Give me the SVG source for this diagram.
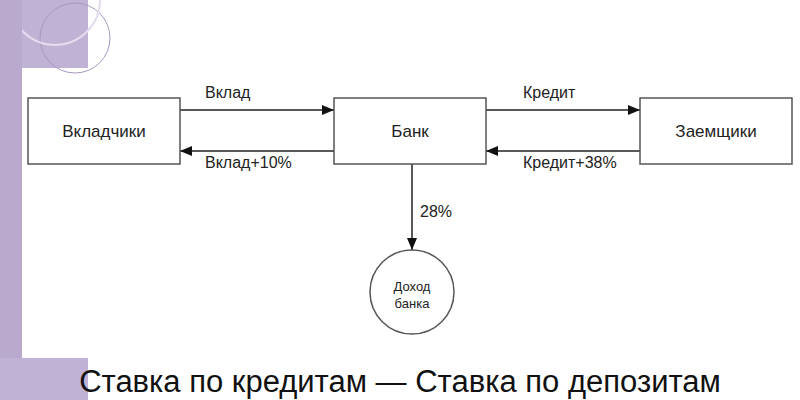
<svg xmlns="http://www.w3.org/2000/svg" width="800" height="400" viewBox="0 0 800 400">
<style>
.b{fill:#fff;stroke:#555;stroke-width:1.5}
.t{font-family:"Liberation Sans",Arial,sans-serif;fill:#222;font-size:17px}
.s{font-size:16px}
.c{font-size:13px}
.l{stroke:#222;stroke-width:1.5;fill:none;marker-end:url(#a)}
</style>
<defs><marker id="a" markerWidth="12" markerHeight="10" refX="12" refY="5" orient="auto" markerUnits="userSpaceOnUse"><path d="M0,0L12,5L0,10z" fill="#111"/></marker></defs>
<rect width="800" height="400" fill="#fff"/>
<rect x="0" y="0" width="88" height="68" fill="#c0b2d4"/>
<circle cx="75" cy="38" r="35" fill="none" stroke="#a898bf" stroke-width="1"/>
<circle cx="55" cy="0" r="45" fill="none" stroke="#e4dcee" stroke-width="2"/>
<rect x="0" y="0" width="22" height="400" fill="#b8a9cd"/>
<rect x="0" y="358" width="88" height="42" fill="#c0b2d4"/>
<g id="connectors">
<line class="l" x1="180" y1="110" x2="334" y2="110"/>
<line class="l" x1="334" y1="151" x2="180" y2="151"/>
<line class="l" x1="486" y1="110" x2="640" y2="110"/>
<line class="l" x1="640" y1="151" x2="486" y2="151"/>
<line class="l" x1="412" y1="164" x2="412" y2="250"/>
<text class="t s" x="205" y="98">Вклад</text>
<text class="t s" x="205" y="168">Вклад+10%</text>
<text class="t s" x="523" y="98">Кредит</text>
<text class="t s" x="523" y="168">Кредит+38%</text>
<text class="t s" x="420" y="217">28%</text>
</g>
<g id="n1"><rect class="b" x="28" y="98" width="152" height="66"/><text class="t" x="104" y="137" text-anchor="middle">Вкладчики</text></g>
<g id="n2"><rect class="b" x="334" y="98" width="152" height="66"/><text class="t" x="410" y="137" text-anchor="middle">Банк</text></g>
<g id="n3"><rect class="b" x="640" y="98" width="152" height="66"/><text class="t" x="716" y="137" text-anchor="middle">Заемщики</text></g>
<g id="n4"><circle class="b" cx="412" cy="292" r="42"/><text class="t c" x="412" y="291" text-anchor="middle">Доход</text><text class="t c" x="412" y="308" text-anchor="middle">банка</text></g>
<text class="t" x="400" y="392" text-anchor="middle" style="font-size:31px;fill:#111">Ставка по кредитам — Ставка по депозитам</text>
</svg>
